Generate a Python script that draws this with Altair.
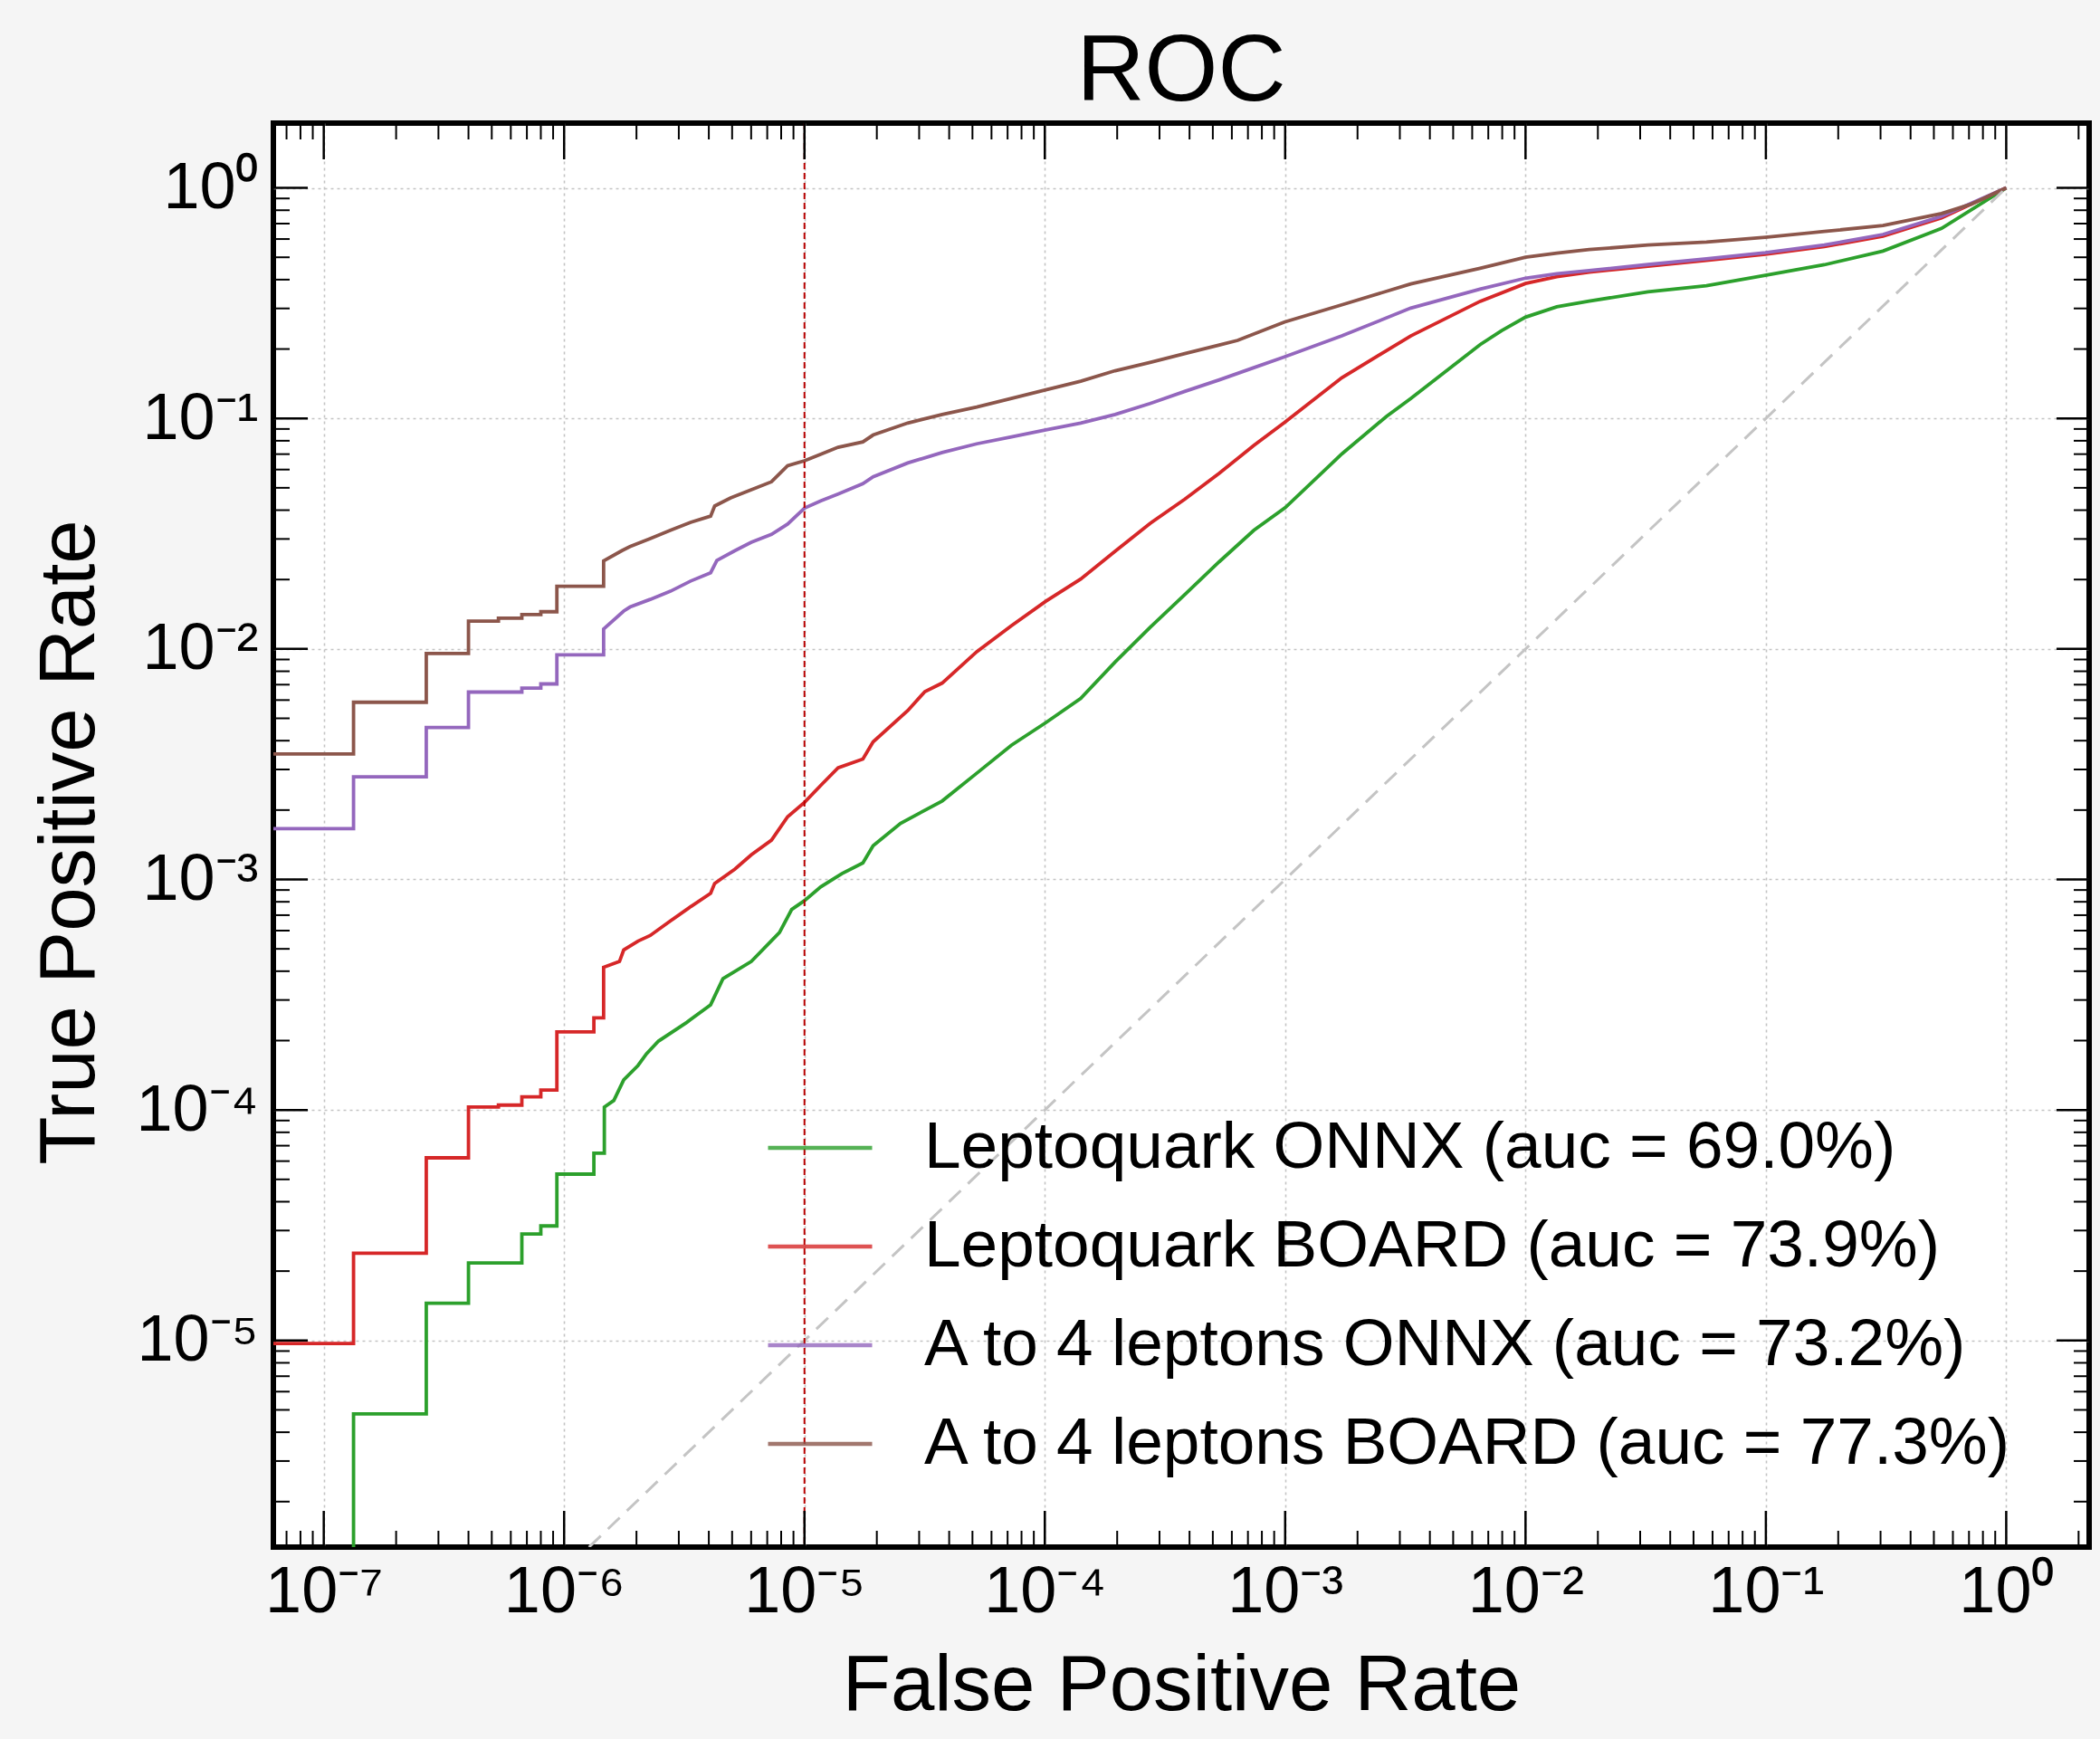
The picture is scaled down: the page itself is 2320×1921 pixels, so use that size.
import json
import altair as alt
import pandas as pd

# ---------------- data ----------------
SERIES = [
    "Leptoquark ONNX (auc = 69.0%)",
    "Leptoquark BOARD (auc = 73.9%)",
    "A to 4 leptons ONNX (auc = 73.2%)",
    "A to 4 leptons BOARD (auc = 77.3%)",
]
COLORS = ["#2ca02c", "#d62728", "#9467bd", "#8c564b"]

GREEN_FPR = [1.33e-7, 1.33e-7, 2.67e-7, 2.67e-7, 4.0e-7, 4.0e-7, 6.67e-7, 6.67e-7, 8.0e-7, 8.0e-7,
             9.33e-7, 9.33e-7, 1.33e-6, 1.33e-6, 1.47e-6, 1.47e-6, 1.61e-6, 1.77e-6, 2.03e-6, 2.20e-6,
             2.47e-6, 3.24e-6, 4.07e-6, 4.58e-6, 6.01e-6, 7.87e-6, 8.85e-6, 1.0e-5, 1.17e-5, 1.43e-5,
             1.75e-5, 1.93e-5, 2.51e-5, 3.74e-5, 5.21e-5, 7.26e-5, 1.01e-4, 1.41e-4, 1.96e-4, 2.74e-4,
             3.82e-4, 5.32e-4, 7.41e-4, 1.0e-3, 1.72e-3, 2.64e-3, 3.33e-3, 6.47e-3, 7.94e-3, 1.0e-2,
             1.35e-2, 1.84e-2, 3.23e-2, 5.66e-2, 9.95e-2, 0.175, 0.307, 0.538, 1.0]
GREEN_TPR = [1.0e-6, 4.8e-6, 4.8e-6, 1.45e-5, 1.45e-5, 2.17e-5, 2.17e-5, 2.9e-5, 2.9e-5, 3.14e-5,
             3.14e-5, 5.27e-5, 5.27e-5, 6.5e-5, 6.5e-5, 1.03e-4, 1.10e-4, 1.35e-4, 1.56e-4, 1.75e-4,
             1.99e-4, 2.40e-4, 2.86e-4, 3.71e-4, 4.41e-4, 5.89e-4, 7.41e-4, 8.09e-4, 9.29e-4, 1.06e-3,
             1.18e-3, 1.40e-3, 1.75e-3, 2.19e-3, 2.89e-3, 3.82e-3, 4.79e-3, 6.10e-3, 8.77e-3, 1.24e-2,
             1.72e-2, 2.39e-2, 3.27e-2, 4.1e-2, 7.01e-2, 0.102, 0.122, 0.209, 0.240, 0.275,
             0.305, 0.323, 0.354, 0.376, 0.418, 0.464, 0.532, 0.667, 1.0]

RED_FPR = [5e-8, 1.33e-7, 1.33e-7, 2.67e-7, 2.67e-7, 4.0e-7, 4.0e-7, 5.33e-7, 5.33e-7, 6.67e-7,
           6.67e-7, 8.0e-7, 8.0e-7, 9.33e-7, 9.33e-7, 1.33e-6, 1.33e-6, 1.46e-6, 1.46e-6, 1.70e-6,
           1.77e-6, 2.03e-6, 2.28e-6, 2.77e-6, 3.36e-6, 4.07e-6, 4.23e-6, 5.14e-6, 6.01e-6, 7.29e-6,
           8.51e-6, 1.0e-5, 1.17e-5, 1.38e-5, 1.75e-5, 1.93e-5, 2.69e-5, 3.17e-5, 3.74e-5, 5.21e-5,
           7.26e-5, 1.01e-4, 1.41e-4, 1.96e-4, 2.74e-4, 3.82e-4, 5.32e-4, 7.41e-4, 9.93e-4, 1.72e-3,
           3.33e-3, 6.47e-3, 1.0e-2, 1.35e-2, 1.84e-2, 3.23e-2, 5.66e-2, 9.95e-2, 0.175, 0.307,
           0.538, 1.0]
RED_TPR = [9.7e-6, 9.7e-6, 2.39e-5, 2.39e-5, 6.2e-5, 6.2e-5, 1.03e-4, 1.03e-4, 1.05e-4, 1.05e-4,
           1.14e-4, 1.14e-4, 1.22e-4, 1.22e-4, 2.18e-4, 2.18e-4, 2.51e-4, 2.51e-4, 4.16e-4, 4.41e-4,
           4.95e-4, 5.40e-4, 5.71e-4, 6.61e-4, 7.62e-4, 8.71e-4, 9.61e-4, 1.11e-3, 1.28e-3, 1.48e-3,
           1.87e-3, 2.16e-3, 2.56e-3, 3.05e-3, 3.33e-3, 3.95e-3, 5.40e-3, 6.53e-3, 7.11e-3, 9.73e-3,
           1.26e-2, 1.61e-2, 2.01e-2, 2.65e-2, 3.50e-2, 4.46e-2, 5.78e-2, 7.64e-2, 9.59e-2, 0.150,
           0.228, 0.322, 0.385, 0.412, 0.431, 0.457, 0.485, 0.515, 0.556, 0.618,
           0.741, 1.0]

PURPLE_FPR = [5e-8, 1.33e-7, 1.33e-7, 2.67e-7, 2.67e-7, 4.0e-7, 4.0e-7, 6.67e-7, 6.67e-7, 8.0e-7,
              8.0e-7, 9.33e-7, 9.33e-7, 1.46e-6, 1.46e-6, 1.77e-6, 1.88e-6, 2.28e-6, 2.77e-6, 3.36e-6,
              4.07e-6, 4.32e-6, 5.14e-6, 6.01e-6, 7.29e-6, 8.51e-6, 1.0e-5, 1.17e-5, 1.38e-5, 1.75e-5,
              1.93e-5, 2.69e-5, 3.74e-5, 5.21e-5, 7.26e-5, 1.01e-4, 1.41e-4, 1.96e-4, 2.74e-4, 3.82e-4,
              5.32e-4, 7.41e-4, 9.93e-4, 1.72e-3, 3.33e-3, 6.47e-3, 1.0e-2, 1.35e-2, 1.84e-2, 3.23e-2,
              5.66e-2, 9.95e-2, 0.175, 0.307, 0.538, 1.0]
PURPLE_TPR = [1.66e-3, 1.66e-3, 2.79e-3, 2.79e-3, 4.56e-3, 4.56e-3, 6.5e-3, 6.5e-3, 6.76e-3, 6.76e-3,
              7.05e-3, 7.05e-3, 9.42e-3, 9.42e-3, 1.22e-2, 1.46e-2, 1.52e-2, 1.64e-2, 1.78e-2, 1.97e-2,
              2.14e-2, 2.42e-2, 2.67e-2, 2.90e-2, 3.14e-2, 3.48e-2, 4.08e-2, 4.39e-2, 4.70e-2, 5.21e-2,
              5.58e-2, 6.41e-2, 7.11e-2, 7.76e-2, 8.32e-2, 8.91e-2, 9.55e-2, 0.104, 0.116, 0.131,
              0.147, 0.166, 0.185, 0.228, 0.301, 0.364, 0.406, 0.424, 0.438, 0.465,
              0.493, 0.524, 0.565, 0.628, 0.752, 1.0]

BROWN_FPR = [5e-8, 1.33e-7, 1.33e-7, 2.67e-7, 2.67e-7, 4.0e-7, 4.0e-7, 5.33e-7, 5.33e-7, 6.67e-7,
             6.67e-7, 8.0e-7, 8.0e-7, 9.33e-7, 9.33e-7, 1.46e-6, 1.46e-6, 1.74e-6, 1.88e-6, 2.28e-6,
             2.77e-6, 3.36e-6, 4.07e-6, 4.23e-6, 4.93e-6, 6.01e-6, 7.29e-6, 8.51e-6, 1.0e-5, 1.17e-5,
             1.38e-5, 1.75e-5, 1.93e-5, 2.69e-5, 3.74e-5, 5.21e-5, 7.26e-5, 1.01e-4, 1.41e-4, 1.96e-4,
             2.74e-4, 3.82e-4, 5.32e-4, 6.34e-4, 9.93e-4, 1.72e-3, 3.33e-3, 6.47e-3, 1.0e-2, 1.35e-2,
             1.84e-2, 3.23e-2, 5.66e-2, 9.95e-2, 0.175, 0.307, 0.538, 0.713, 1.0]
BROWN_TPR = [3.5e-3, 3.5e-3, 5.87e-3, 5.87e-3, 9.55e-3, 9.55e-3, 1.32e-2, 1.32e-2, 1.36e-2, 1.36e-2,
             1.41e-2, 1.41e-2, 1.45e-2, 1.45e-2, 1.87e-2, 1.87e-2, 2.41e-2, 2.67e-2, 2.78e-2, 3.01e-2,
             3.27e-2, 3.54e-2, 3.77e-2, 4.17e-2, 4.52e-2, 4.90e-2, 5.31e-2, 6.24e-2, 6.55e-2, 7.0e-2,
             7.5e-2, 7.91e-2, 8.47e-2, 9.55e-2, 0.104, 0.112, 0.122, 0.133, 0.145, 0.161,
             0.175, 0.191, 0.208, 0.218, 0.262, 0.311, 0.383, 0.448, 0.5, 0.521,
             0.540, 0.565, 0.582, 0.610, 0.647, 0.687, 0.774, 0.849, 1.0]

DIAG = [1.0e-7, 1.0]          # chance line, tpr = fpr
WP_FPR = [1.0e-5]             # working point marker

X_MAJOR = [1e-7, 1e-6, 1e-5, 1e-4, 1e-3, 1e-2, 1e-1, 1e0]
X_LABELS = ["10⁻⁷", "10⁻⁶", "10⁻⁵", "10⁻⁴", "10⁻³", "10⁻²", "10⁻¹", "10⁰"]
Y_MAJOR = [1e-5, 1e-4, 1e-3, 1e-2, 1e-1, 1e0]
Y_LABELS = ["10⁻⁵", "10⁻⁴", "10⁻³", "10⁻²", "10⁻¹", "10⁰"]

X_DOMAIN = [6.17e-8, 2.213]
Y_DOMAIN = [1.27e-6, 1.91]

X_MINOR = [m * 10.0 ** e for e in range(-8, 1) for m in range(2, 10)
           if X_DOMAIN[0] <= m * 10.0 ** e <= X_DOMAIN[1]]
Y_MINOR = [m * 10.0 ** e for e in range(-7, 1) for m in range(2, 10)
           if Y_DOMAIN[0] <= m * 10.0 ** e <= Y_DOMAIN[1]]
X_MAJ_IN = [v for v in X_MAJOR if X_DOMAIN[0] <= v <= X_DOMAIN[1]]
Y_MAJ_IN = [v for v in Y_MAJOR if Y_DOMAIN[0] <= v <= Y_DOMAIN[1]]

# ---------------- tables ----------------
rows = []
for name, fx, fy in zip(SERIES, [GREEN_FPR, RED_FPR, PURPLE_FPR, BROWN_FPR],
                        [GREEN_TPR, RED_TPR, PURPLE_TPR, BROWN_TPR]):
    for i, (a, b) in enumerate(zip(fx, fy)):
        rows.append({"series": name, "fpr": a, "tpr": b, "i": i})
curves = pd.DataFrame(rows)
diag = pd.DataFrame({"fpr": DIAG, "tpr": DIAG})
wp = pd.DataFrame({"fpr": WP_FPR})
xmaj = pd.DataFrame({"fpr": X_MAJ_IN})
xmin = pd.DataFrame({"fpr": X_MINOR})
ymaj = pd.DataFrame({"tpr": Y_MAJ_IN})
ymin = pd.DataFrame({"tpr": Y_MINOR})

W, H = 2006, 1573
FONT = "Liberation Sans"
LW = 3.8

xscale = alt.Scale(type="log", domain=X_DOMAIN, nice=False)
yscale = alt.Scale(type="log", domain=Y_DOMAIN, nice=False)

x_expr = json.dumps(X_LABELS, ensure_ascii=False) + "[round(log(datum.value)/LN10)+7]"
y_expr = json.dumps(Y_LABELS, ensure_ascii=False) + "[round(log(datum.value)/LN10)+5]"

x_axis = alt.Axis(values=X_MAJOR, labelExpr=x_expr, grid=True, gridDash=[3, 4],
                  gridColor="#c4c4c4", gridWidth=1.6, ticks=False, domain=False,
                  labelFontSize=72, labelPadding=14, labelFont=FONT, labelColor="black",
                  title="False Positive Rate", titleFontSize=87, titleFont=FONT,
                  titleFontWeight="normal", titleColor="black", titleX=W / 2, titleY=179,
                  titleBaseline="alphabetic", titleAlign="center")
y_axis = alt.Axis(values=Y_MAJOR, labelExpr=y_expr, grid=True, gridDash=[3, 4],
                  gridColor="#c4c4c4", gridWidth=1.6, ticks=False, domain=False,
                  labelFontSize=72, labelPadding=17, labelFont=FONT, labelColor="black",
                  title="True Positive Rate", titleFontSize=87, titleFont=FONT,
                  titleFontWeight="normal", titleColor="black", titleAngle=270,
                  titleX=-199, titleY=794, titleBaseline="alphabetic", titleAlign="center")

lines = alt.Chart(curves).mark_line(strokeWidth=LW, clip=True).encode(
    x=alt.X("fpr:Q", scale=xscale, axis=x_axis),
    y=alt.Y("tpr:Q", scale=yscale, axis=y_axis),
    color=alt.Color("series:N", scale=alt.Scale(domain=SERIES, range=COLORS),
                    legend=alt.Legend(orient="none", legendX=544, legendY=1072, title=None,
                                      labelFontSize=73, labelFont=FONT, labelColor="black",
                                      labelLimit=3000, symbolType="stroke", symbolSize=13225,
                                      symbolStrokeWidth=LW + 0.5, symbolOpacity=0.8,
                                      labelOffset=55, rowPadding=12, padding=0)),
    order=alt.Order("i:Q"),
)

diag_line = alt.Chart(diag).mark_line(color="#c4c4c4", strokeWidth=3, strokeDash=[18, 11],
                                      clip=True).encode(
    x=alt.X("fpr:Q", scale=xscale),
    y=alt.Y("tpr:Q", scale=yscale),
)

wp_rule = alt.Chart(wp).mark_rule(color="#b80000", strokeWidth=2, strokeDash=[7, 4]).encode(
    x=alt.X("fpr:Q", scale=xscale),
)


def xticks(df, y0, y1, sw):
    return alt.Chart(df).mark_rule(color="black", strokeWidth=sw).encode(
        x=alt.X("fpr:Q", scale=xscale), y=alt.value(y0), y2=alt.value(y1))


def yticks(df, x0, x1, sw):
    return alt.Chart(df).mark_rule(color="black", strokeWidth=sw).encode(
        y=alt.Y("tpr:Q", scale=yscale), x=alt.value(x0), x2=alt.value(x1))


tick_layers = [
    xticks(xmaj, 0, 40, 2.5), xticks(xmin, 0, 18, 2),
    xticks(xmaj, H, H - 40, 2.5), xticks(xmin, H, H - 18, 2),
    yticks(ymaj, 0, 38, 2.5), yticks(ymin, 0, 18, 2),
    yticks(ymaj, W, W - 36, 2.5), yticks(ymin, W, W - 17, 2),
]

chart = alt.layer(lines, diag_line, wp_rule, *tick_layers).properties(
    width=W, height=H,
    title=alt.Title("ROC", fontSize=104, font=FONT, fontWeight="normal", color="black",
                    anchor="middle", baseline="alphabetic", offset=19, frame="group", dy=99),
    autosize=alt.AutoSizeParams(type="none"),
    padding={"left": 302, "top": 136, "right": 12, "bottom": 212},
    background="#f5f5f5",
).configure_view(fill="white", stroke="black", strokeWidth=6)

chart.save("out.html", embed_options={"renderer": "svg", "actions": False})
